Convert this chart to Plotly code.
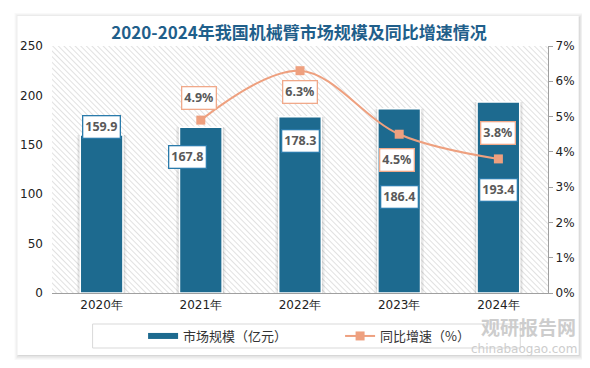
import base64
import plotly.graph_objects as go

years = ["2020年", "2021年", "2022年", "2023年", "2024年"]
market_size = [159.9, 167.8, 178.3, 186.4, 193.4]
growth = [None, 0.049, 0.063, 0.045, 0.038]
growth_labels = ["", "4.9%", "6.3%", "4.5%", "3.8%"]

bar_label_shift = [(0, 8), (-13, -30), (0, -24), (0, -88), (0, -88)]
pct_label_shift = [(0, 0), (-2, 22), (0, -21), (-2, -26), (0, 26)]

BLUE = "#1d6a8f"
ORANGE = "#eea07f"

# page offset: the browser body has an 8px margin
OFF = 8
PL, PR, PT, PB = 47, 548, 46, 293  # plot area in page pixels

svg = (
    '<svg xmlns="http://www.w3.org/2000/svg" width="501" height="247">'
    '<defs><pattern id="p" width="4" height="4" patternUnits="userSpaceOnUse" '
    'patternTransform="rotate(-45)"><rect width="4" height="4" fill="#ffffff"/>'
    '<line x1="0" y1="0" x2="0" y2="4" stroke="#d2d2d2" stroke-width="1.3"/></pattern></defs>'
    '<rect width="501" height="247" fill="url(#p)"/></svg>'
)
svg_uri = "data:image/svg+xml;base64," + base64.b64encode(svg.encode()).decode()


def px2x(px):
    return (px - PL) / (PR - PL)


def px2y(py):
    return (PB - py) / (PB - PT)


fig = go.Figure()
# soft shadow behind bars
for w, op in [(0.50, 0.05), (0.47, 0.08)]:
    fig.add_trace(go.Bar(
        x=years, y=market_size, width=w, marker=dict(color=f"rgba(0,0,0,{op})", line=dict(width=0)),
        showlegend=False, hoverinfo="skip", yaxis="y",
    ))
fig.add_trace(go.Bar(
    x=years, y=market_size, name="市场规模（亿元）",
    marker=dict(color=BLUE, line=dict(color="white", width=1.5)),
    width=0.43, yaxis="y", showlegend=False,
))
fig.add_trace(go.Scatter(
    x=[None], y=[None], mode="lines", name="市场规模（亿元）",
    line=dict(color=BLUE, width=6), yaxis="y", hoverinfo="skip",
))
fig.add_trace(go.Scatter(
    x=years, y=growth, name="同比增速（%）", yaxis="y2",
    mode="lines+markers", line=dict(color=ORANGE, width=2, shape="spline"),
    marker=dict(symbol="square", size=9, color=ORANGE),
    connectgaps=False,
))

annotations = []
for i, (yr, v) in enumerate(zip(years, market_size)):
    dx, dy = bar_label_shift[i]
    annotations.append(dict(
        x=yr, y=v, xref="x", yref="y", text=f"<b>{v:.1f}</b>", showarrow=False,
        xshift=dx, yshift=dy, bgcolor="white", bordercolor="#2a7bab", borderwidth=1.3,
        borderpad=2, font=dict(size=12.5, color="#595959", family="Noto Sans"),
    ))
for i, (yr, g) in enumerate(zip(years, growth)):
    if g is None:
        continue
    dx, dy = pct_label_shift[i]
    annotations.append(dict(
        x=yr, y=g, xref="x", yref="y2", text=f"<b>{growth_labels[i]}</b>", showarrow=False,
        xshift=dx, yshift=dy, bgcolor="white", bordercolor="#f0a98a", borderwidth=1.3,
        borderpad=2, font=dict(size=12.5, color="#595959", family="Noto Sans"),
    ))

annotations.append(dict(
    x=px2x(577), y=px2y(340.5), xref="paper", yref="paper", text="<b>观研报告网</b>", showarrow=False,
    xanchor="right", yanchor="bottom", borderpad=0,
    font=dict(size=19, color="#cdcdcd", family="Noto Sans CJK SC"),
))
annotations.append(dict(
    x=px2x(578), y=px2y(341), xref="paper", yref="paper", text="chinabaogao.com", showarrow=False,
    xanchor="right", yanchor="top", borderpad=0,
    font=dict(size=12, color="#cdcdcd", family="DejaVu Sans"),
))

shapes = []
# card shadow
for k, op in enumerate([0.025, 0.035, 0.045, 0.06]):
    d = 5 - k * 1.3
    shapes.append(dict(type="rect", xref="paper", yref="paper", layer="below",
                       x0=px2x(12 - d + 2), x1=px2x(579 + d), y0=px2y(355 + d), y1=px2y(16 - d + 2),
                       line=dict(width=0), fillcolor=f"rgba(0,0,0,{op})"))
shapes.append(dict(type="rect", xref="paper", yref="paper", layer="below",
                   x0=px2x(12), x1=px2x(579), y0=px2y(355), y1=px2y(16),
                   line=dict(width=0), fillcolor="white"))
# legend box
shapes.append(dict(type="rect", xref="paper", yref="paper", layer="below",
                   x0=px2x(88), x1=px2x(520), y0=px2y(348), y1=px2y(324),
                   line=dict(width=1, color="#d9d9d9"), fillcolor="rgba(0,0,0,0)"))

W, H = 590 - OFF, 368 - OFF
fig.update_layout(
    width=W, height=H,
    margin=dict(l=PL - OFF, r=W - (PR - OFF), t=PT - OFF, b=H - (PB - OFF)),
    paper_bgcolor="white", plot_bgcolor="rgba(0,0,0,0)",
    font=dict(family="DejaVu Sans", color="#333333", size=12),
    title=dict(text="<b>2020-2024年我国机械臂市场规模及同比增速情况</b>",
               x=0.5, xanchor="center", y=1 - (33 - OFF) / H, yanchor="middle",
               font=dict(size=17, color="#1f5f8b", family="Noto Sans CJK SC")),
    barmode="overlay",
    xaxis=dict(showline=True, linecolor="#a0a0a0", linewidth=1.2, ticks="", showgrid=False,
               tickfont=dict(size=12, color="#222222")),
    yaxis=dict(range=[0, 250], dtick=50, showgrid=False, zeroline=False, showline=False,
               tickfont=dict(size=12, color="#222222"), ticklabelstandoff=8),
    yaxis2=dict(range=[0, 0.07], dtick=0.01, tickformat=".0%", overlaying="y", side="right",
                showgrid=False, zeroline=False, showline=True, linecolor="#a0a0a0", linewidth=1.2,
                ticks="outside", ticklen=4, tickcolor="#a0a0a0",
                tickfont=dict(size=12, color="#222222")),
    showlegend=True,
    legend=dict(orientation="h", x=px2x(139), xanchor="left", y=px2y(336), yanchor="middle",
                font=dict(size=13, color="#333333", family="Noto Sans CJK SC"),
                bgcolor="rgba(0,0,0,0)", itemwidth=30, entrywidth=152, entrywidthmode="pixels"),
    images=[dict(source=svg_uri, xref="x domain", yref="y domain", x=0, y=1,
                 sizex=1, sizey=1, sizing="stretch", xanchor="left", yanchor="top",
                 layer="below")],
    shapes=shapes,
    annotations=annotations,
)

fig.write_html("out.html")
